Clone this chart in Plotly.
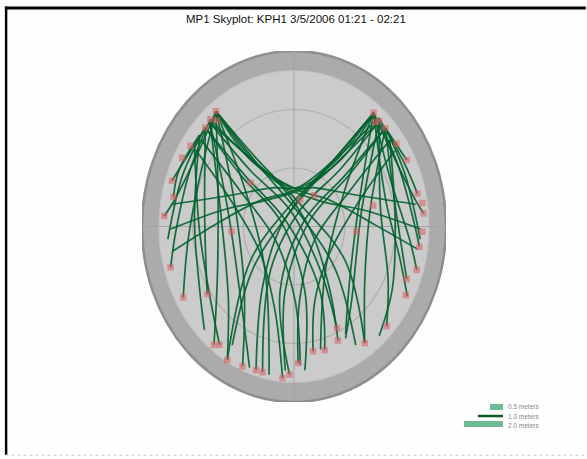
import math
import plotly.graph_objects as go

TITLE = "MP1 Skyplot: KPH1 3/5/2006 01:21 - 02:21"
CARDINAL_LABELS = ["000", "090", "180", "270"]
CARDINAL_AZ = [0, 90, 180, 270]
ELEV_RINGS = [60, 30]          # grid rings (elevation, deg)
ELEV_MASK = 10                 # elevation mask (inner disc edge)
LEGEND_LABELS = ["0.5 meters", "1.0 meters", "2.0 meters"]

# satellite tracks: azimuth / elevation (deg)
nw_edge_az = [[322, 300, 281, 274], [318, 295, 268, 254], [322, 293, 264, 241],
              [314, 298, 288], [310, 293, 282], [314, 292, 265]]
nw_edge_el = [[15, 22, 18, 13], [16, 22, 20, 14], [15, 29, 27, 15],
              [17, 17, 14], [17, 16, 17], [17, 19, 15]]

nw_down_az = [[322, 287, 239, 218], [317, 274, 226, 210], [314, 274, 236],
              [322, 291, 222, 203], [305, 268, 233, 216], [317, 282, 220, 200],
              [310, 273, 240, 225], [322, 303, 218, 191]]
nw_down_el = [[15, 43, 37, 13], [17, 47, 36, 11], [17, 37, 28],
              [15, 52, 46, 12], [18, 34, 28, 15], [17, 50, 41, 13],
              [17, 31, 25.5, 15], [15, 55.5, 62, 12.5]]

nw_cross_az = [[322, 324, 339, 101, 147, 156], [317, 318, 344, 145, 154],
               [314, 312, 302, 155, 164], [309, 300, 238, 179, 177],
               [322, 328, 18, 120, 145], [304, 290, 239, 195, 185],
               [322, 327, 31, 132, 149], [314, 310, 292, 169, 175]]
nw_cross_el = [[15, 46, 67, 80, 51, 26], [17, 51, 81, 63, 32],
               [17, 51, 84, 54, 24], [19, 53, 77, 52, 19],
               [15, 50, 78, 55, 17], [19.5, 50, 66, 46, 12],
               [15, 55, 83, 57, 19], [17, 48, 81, 57, 16]]

ne_edge_az = [[39, 60, 79, 85], [43, 65, 91, 98], [39, 67, 96, 107],
              [47, 58, 63], [42, 64, 77], [47, 68, 95]]
ne_edge_el = [[15, 21, 17, 13], [16, 21, 18, 15], [15, 28, 21, 14],
              [16, 16, 15], [15, 17, 15], [16, 19, 15]]

ne_down_az = [[39, 76, 105, 118], [43, 80, 116, 133], [47, 77, 112],
              [39, 71, 130, 151], [47, 79, 123, 145], [43, 78, 138, 152],
              [52, 87, 119, 138], [39, 58, 140, 166]]
ne_down_el = [[15, 34, 25, 14], [16, 38, 28, 15], [16, 29, 18],
              [15, 49, 47, 27], [16, 44, 40, 17], [16, 49, 39, 25],
              [18, 30, 23.5, 14.6], [15, 54.5, 61, 25]]

ne_cross_az = [[39, 37, 24, 258, 210, 197], [43, 43, 23, 212, 194],
               [47, 49, 63, 194, 182], [52, 61, 119, 175, 178],
               [39, 34, 348, 236, 210], [57, 71, 120, 162, 170],
               [39, 33, 329, 228, 211], [47, 51, 71, 189, 184]]
ne_cross_el = [[15, 45, 67, 81, 52, 13], [16, 50, 81, 64, 13],
               [16, 50, 83, 56, 14], [18, 52, 76, 52, 20],
               [15, 50, 79, 59, 11], [19, 49, 65, 50, 25],
               [15, 55, 83, 57, 19], [16, 48, 80, 57, 16]]

arch_az = [[260, 271, 304, 5, 39, 39], [99, 89, 57, 5, 323, 322],
           [269, 282, 314, 24, 40, 43], [91, 79, 49, 339, 321, 317],
           [279, 293, 330, 5, 35, 42], [81, 67, 30, 355, 324, 318]]
arch_el = [[17, 43, 66, 71, 46, 15], [16, 42, 65, 71, 47, 15],
           [17, 48, 70, 67, 39, 16], [15, 47, 70, 67, 39, 17],
           [17, 49, 67, 70, 48, 15], [17, 49, 67, 70, 48, 16]]

# multipath spikes (red squares)
spike_az = [218, 210, 203, 197, 194, 185, 178, 170, 156, 154, 145, 236, 216, 182,
            254, 274, 288, 282, 304, 298, 266, 311, 241,
            63, 55, 77, 81, 85, 92, 98, 107, 112, 77, 94, 37, 15, 133, 118,
            322, 318, 314, 320, 39, 43, 47, 42, 164]
spike_el = [13, 11, 12, 13, 13, 12, 20, 25, 26, 32, 17, 28, 15, 14,
            14, 13, 14, 17, 16, 15, 53, 56, 15,
            15, 16, 15, 13, 13, 14, 15, 14, 18, 42, 53, 70, 76, 15, 15,
            15, 16, 17, 19, 15, 16, 16, 18, 24]


def to_xy(az, el):
    xs, ys = [], []
    for a, e in zip(az, el):
        r = 90 - e
        xs.append(r * math.sin(math.radians(a)))
        ys.append(r * math.cos(math.radians(a)))
    return xs, ys


fig = go.Figure()

TRACK_COLOR = "rgba(0,98,46,0.9)"
groups = [(nw_edge_az, nw_edge_el), (nw_down_az, nw_down_el), (nw_cross_az, nw_cross_el),
          (ne_edge_az, ne_edge_el), (ne_down_az, ne_down_el), (ne_cross_az, ne_cross_el),
          (arch_az, arch_el)]
for g_az, g_el in groups:
    for az, el in zip(g_az, g_el):
        x, y = to_xy(az, el)
        fig.add_trace(go.Scatter(x=x, y=y, mode="lines",
                                 line=dict(color=TRACK_COLOR, width=1.7, shape="spline", smoothing=1.0),
                                 hoverinfo="skip", showlegend=False))

sx, sy = to_xy(spike_az, spike_el)
fig.add_trace(go.Scatter(x=sx, y=sy, mode="markers",
                         marker=dict(symbol="square", size=6.5, color="rgba(220,95,100,0.55)",
                                     line=dict(width=0)),
                         hoverinfo="skip", showlegend=False))

shapes = []
shapes.append(dict(type="circle", xref="x", yref="y", x0=-90, x1=90, y0=-90, y1=90,
                   fillcolor="#ababab", line=dict(color="#8e8e8e", width=2.5), layer="below"))
m = 90 - ELEV_MASK
shapes.append(dict(type="circle", xref="x", yref="y", x0=-m, x1=m, y0=-m, y1=m,
                   fillcolor="#cbcbcb", line=dict(color="#c2c2c2", width=1), layer="below"))
for e in ELEV_RINGS:
    r = 90 - e
    shapes.append(dict(type="circle", xref="x", yref="y", x0=-r, x1=r, y0=-r, y1=r,
                       line=dict(color="#aeaeae", width=1.2), layer="below"))
shapes.append(dict(type="line", xref="x", yref="y", x0=0, x1=0, y0=-94, y1=94,
                   line=dict(color="#a4a4a4", width=1), layer="below"))
shapes.append(dict(type="line", xref="x", yref="y", x0=-94, x1=94, y0=0, y1=0,
                   line=dict(color="#a4a4a4", width=1), layer="below"))

# frame: top and left black bars, light dotted bottom rule
shapes.append(dict(type="rect", xref="paper", yref="paper", x0=-0.451, x1=1.46, y0=1.1185, y1=1.127,
                   fillcolor="black", line=dict(width=0), layer="above"))
shapes.append(dict(type="rect", xref="paper", yref="paper", x0=-0.451, x1=-0.443, y0=1.127, y1=-0.151,
                   fillcolor="black", line=dict(width=0), layer="above"))
shapes.append(dict(type="line", xref="paper", yref="paper", x0=-0.449, x1=1.46, y0=-0.152, y1=-0.152,
                   line=dict(color="#dcdcdc", width=1.5, dash="dot")))

# legend swatches
shapes.append(dict(type="rect", xref="paper", yref="paper", x0=1.1447, x1=1.1875, y0=-0.0228, y1=-0.0057,
                   fillcolor="#6dba95", line=dict(width=0)))
shapes.append(dict(type="line", xref="paper", yref="paper", x0=1.105, x1=1.1875, y0=-0.0399, y1=-0.0399,
                   line=dict(color="#0a5a2a", width=2.5)))
shapes.append(dict(type="rect", xref="paper", yref="paper", x0=1.059, x1=1.1875, y0=-0.071, y1=-0.054,
                   fillcolor="#6dba95", line=dict(width=0)))

annotations = []
label_pos = {0: (0, 98.5), 90: (98.5, 0), 180: (0, -97.5), 270: (-97.5, 0)}
for lab, az in zip(CARDINAL_LABELS, CARDINAL_AZ):
    px, py = label_pos[az]
    annotations.append(dict(x=px, y=py, xref="x", yref="y", text=lab, showarrow=False,
                            font=dict(size=8, color="#888888", family="Liberation Sans")))
for i, lab in enumerate(LEGEND_LABELS):
    yy = [-0.0125, -0.0399, -0.066][i]
    annotations.append(dict(x=1.2, y=yy, xref="paper", yref="paper", text=lab, showarrow=False,
                            xanchor="left", yanchor="middle", borderpad=0,
                            font=dict(size=6.5, color="#8a8a8a", family="Liberation Sans")))

fig.update_layout(
    width=587, height=459,
    margin=dict(l=142, r=141, t=51, b=57),
    paper_bgcolor="#fdfefd", plot_bgcolor="rgba(0,0,0,0)",
    title=dict(text=TITLE, x=0.504, xanchor="center", y=0.958, yanchor="middle",
               font=dict(size=11.5, color="#111111", family="Liberation Sans")),
    xaxis=dict(range=[-90, 90], visible=False, fixedrange=True),
    yaxis=dict(range=[-90, 90], visible=False, fixedrange=True),
    shapes=shapes, annotations=annotations, showlegend=False,
)

fig.write_html("out.html", config={"displayModeBar": False},
               post_script="document.body.style.margin='0px';")
